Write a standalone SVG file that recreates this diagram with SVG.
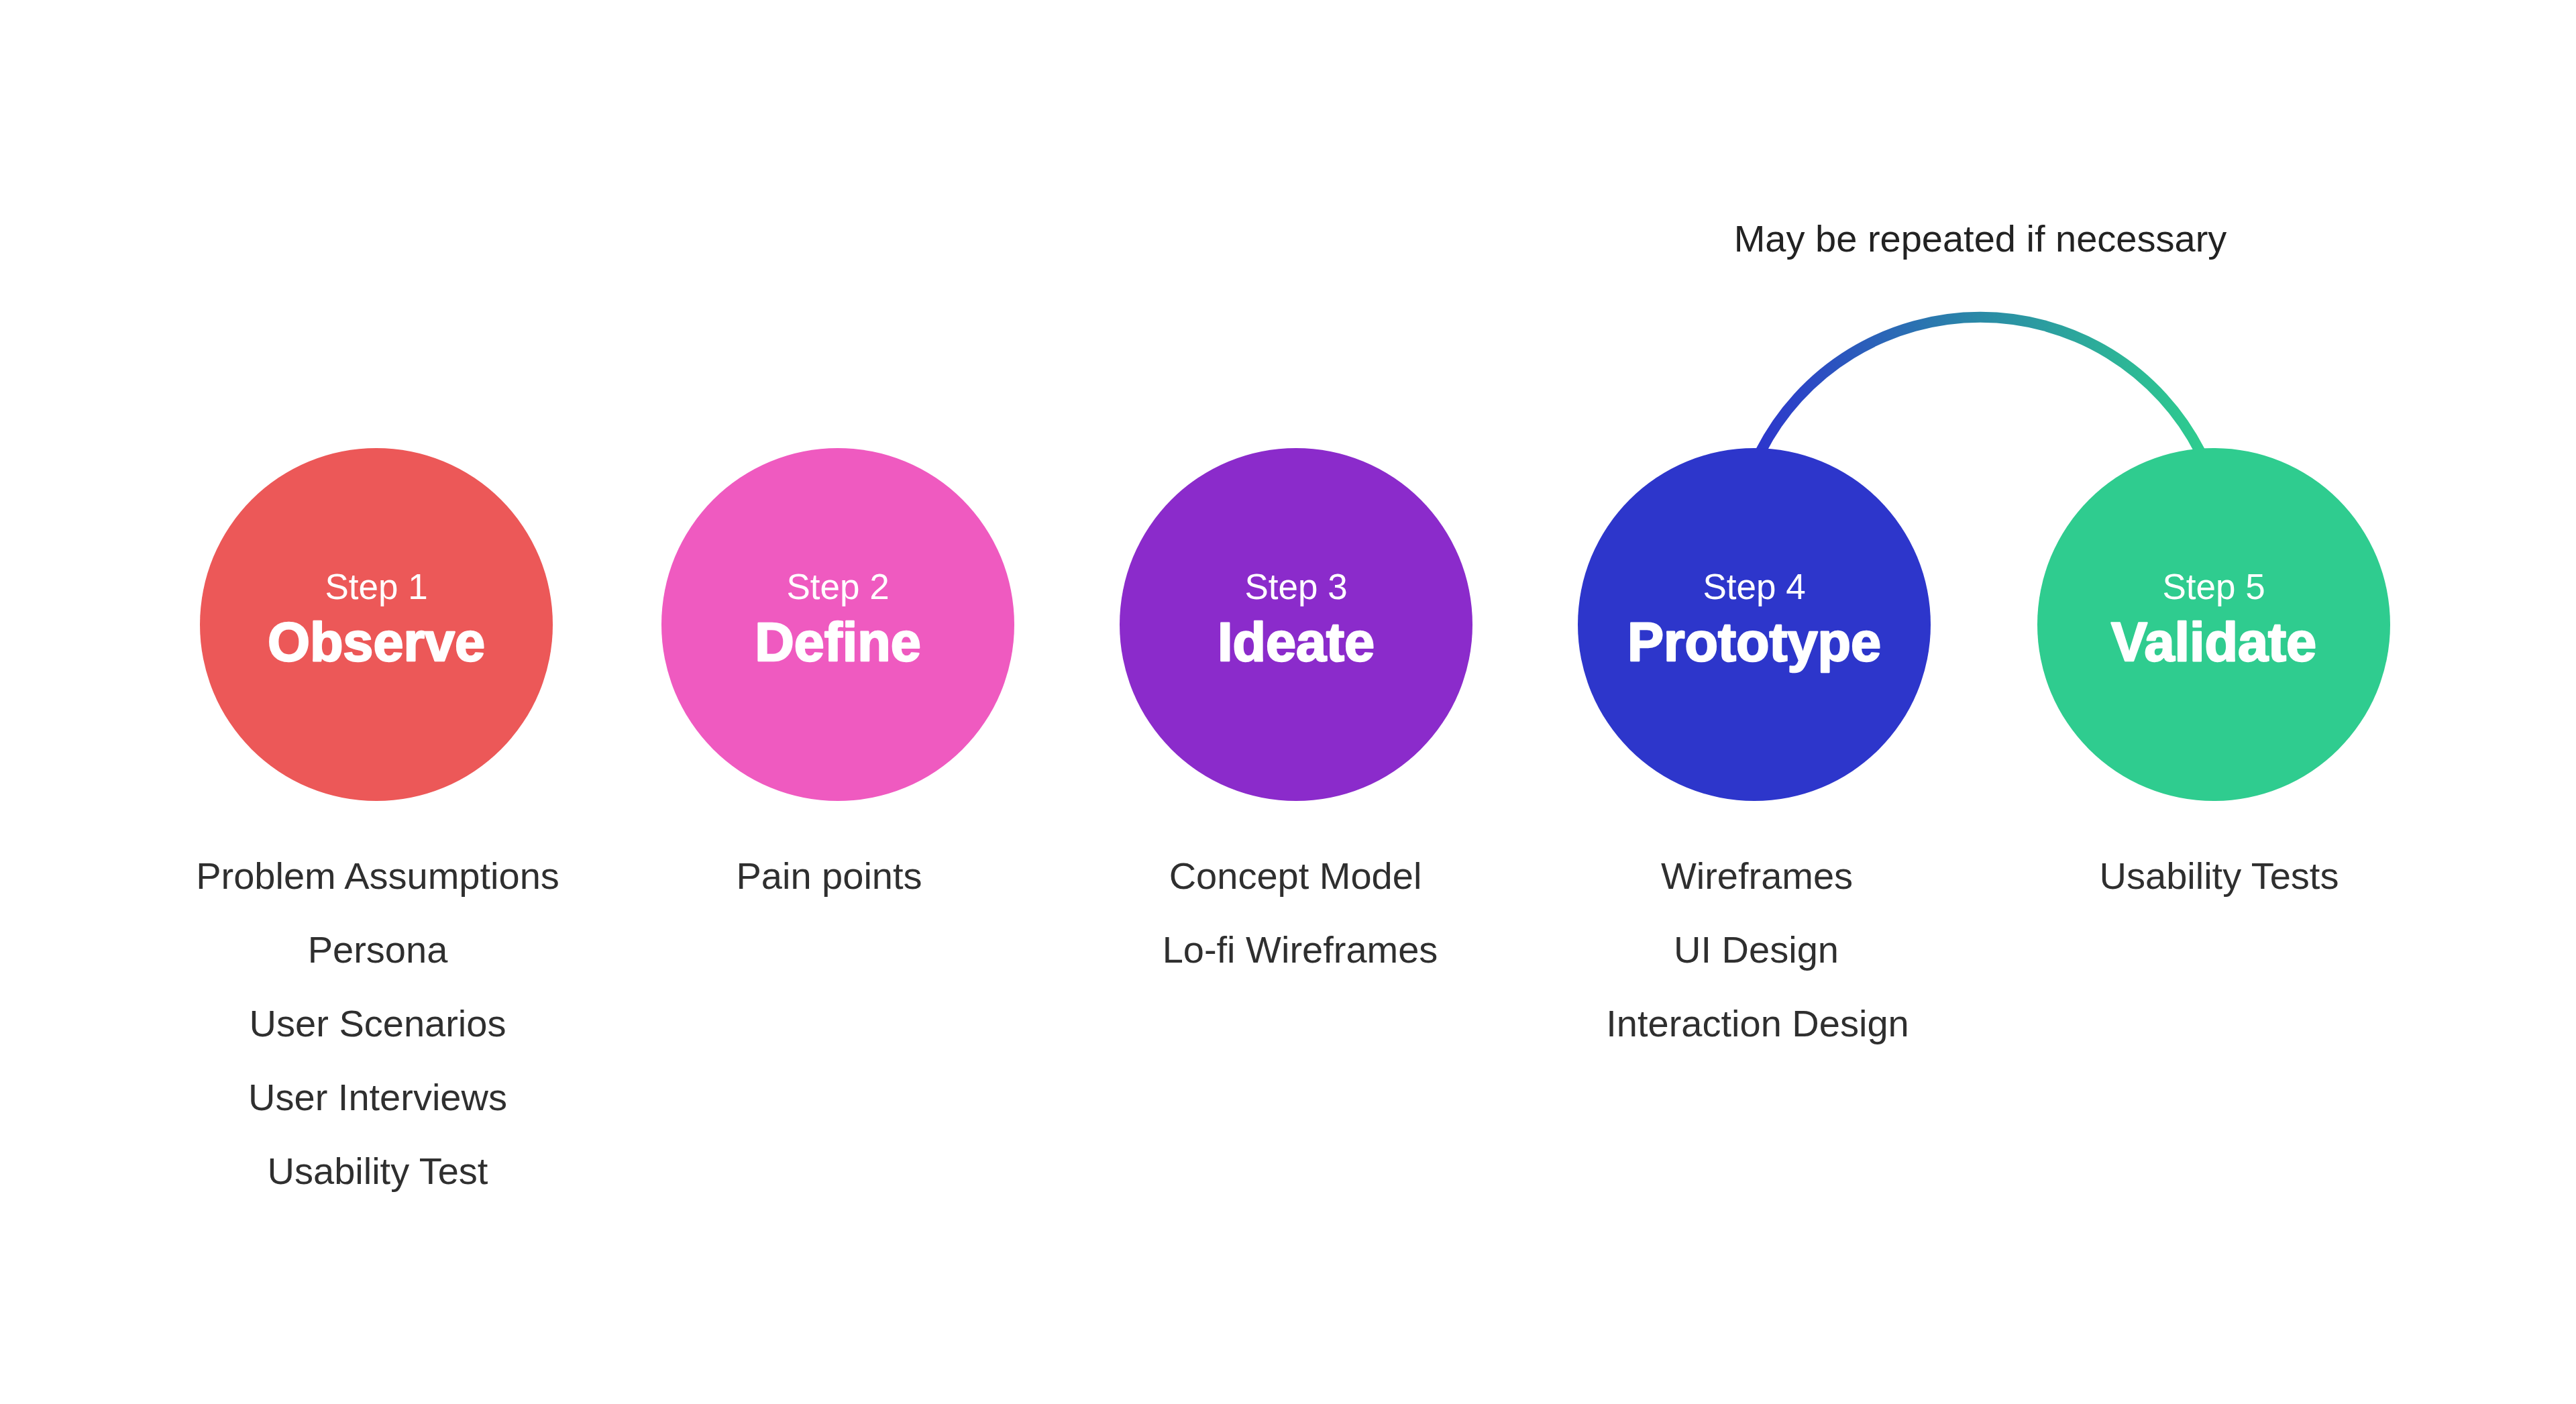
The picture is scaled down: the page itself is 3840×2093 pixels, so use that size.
<svg xmlns="http://www.w3.org/2000/svg" width="3840" height="2093" viewBox="0 0 3840 2093">
  <style>
    .step { font-family: "Liberation Sans", Arial, sans-serif; font-size: 53px; fill: #ffffff; text-anchor: middle; }
    .title { font-family: "Liberation Sans", Arial, sans-serif; font-size: 81px; font-weight: bold; fill: #ffffff; text-anchor: middle; stroke: #ffffff; stroke-width: 2.5px; stroke-linejoin: round; }
    .item { font-family: "Liberation Sans", Arial, sans-serif; font-size: 56px; fill: #2f2f2f; text-anchor: middle; }
    .note { font-family: "Liberation Sans", Arial, sans-serif; font-size: 56px; fill: #222222; text-anchor: middle; }
  </style>
  <defs>
    <linearGradient id="arcGrad" gradientUnits="userSpaceOnUse" x1="2626" y1="0" x2="3280" y2="0">
      <stop offset="0" stop-color="#2C38CC"/>
      <stop offset="0.5" stop-color="#2A8AA6"/>
      <stop offset="1" stop-color="#2ECC8F"/>
    </linearGradient>
  </defs>
  <rect width="3840" height="2093" fill="#ffffff"/>

  <g id="connectors">
    <path d="M 2624 674 A 368 368 0 0 1 3280 674" fill="none" stroke="url(#arcGrad)" stroke-width="16"/>
  </g>

  <text id="note" class="note" x="2952" y="375">May be repeated if necessary</text>

  <g id="step1">
    <circle cx="561" cy="931" r="263" fill="#EC5858"/>
    <text class="step" x="561" y="893">Step 1</text>
    <text class="title" x="561" y="985">Observe</text>
    <text class="item" x="563" y="1325">Problem Assumptions</text>
    <text class="item" x="563" y="1435">Persona</text>
    <text class="item" x="563" y="1545">User Scenarios</text>
    <text class="item" x="563" y="1655">User Interviews</text>
    <text class="item" x="563" y="1765">Usability Test</text>
  </g>

  <g id="step2">
    <circle cx="1249" cy="931" r="263" fill="#EF5AC0"/>
    <text class="step" x="1249" y="893">Step 2</text>
    <text class="title" x="1249" y="985">Define</text>
    <text class="item" x="1236" y="1325">Pain points</text>
  </g>

  <g id="step3">
    <circle cx="1932" cy="931" r="263" fill="#8B2BCB"/>
    <text class="step" x="1932" y="893">Step 3</text>
    <text class="title" x="1932" y="985">Ideate</text>
    <text class="item" x="1931" y="1325">Concept Model</text>
    <text class="item" x="1938" y="1435">Lo-fi Wireframes</text>
  </g>

  <g id="step4">
    <circle cx="2615" cy="931" r="263" fill="#2D36CB"/>
    <text class="step" x="2615" y="893">Step 4</text>
    <text class="title" x="2615" y="985">Prototype</text>
    <text class="item" x="2619" y="1325">Wireframes</text>
    <text class="item" x="2618" y="1435">UI Design</text>
    <text class="item" x="2620" y="1545">Interaction Design</text>
  </g>

  <g id="step5">
    <circle cx="3300" cy="931" r="263" fill="#2FCC8F"/>
    <text class="step" x="3300" y="893">Step 5</text>
    <text class="title" x="3300" y="985">Validate</text>
    <text class="item" x="3308" y="1325">Usability Tests</text>
  </g>
</svg>
